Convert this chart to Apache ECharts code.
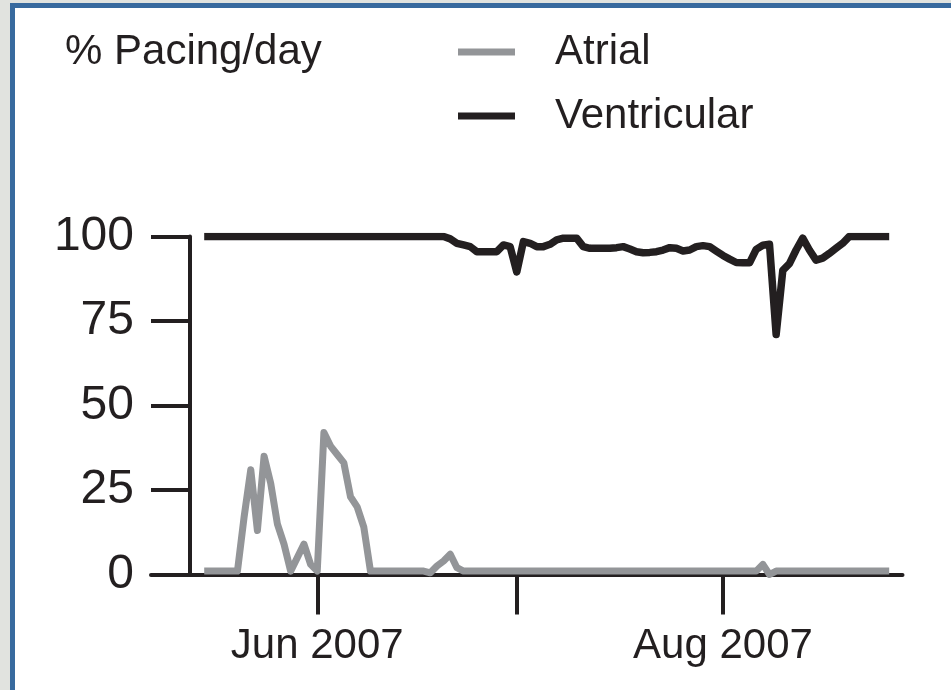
<!DOCTYPE html>
<html>
<head>
<meta charset="utf-8">
<title>% Pacing/day</title>
<script src="https://cdn.jsdelivr.net/npm/echarts@6/dist/echarts.min.js"></script>
<style>
  html, body { margin: 0; padding: 0; background: #ffffff; }
  #frame { position: absolute; left: 0; top: 0; width: 951px; height: 690px; background: #e1e3df; }
  #panel { position: absolute; left: 10px; top: 3px; right: 0; bottom: 0;
           border-left: 5px solid #386a9e; border-top: 5px solid #386a9e; background: #ffffff; }
  #chart { position: absolute; left: 0; top: 0; width: 951px; height: 690px; }
</style>
</head>
<body>
<div id="frame"><div id="panel"></div></div>
<div id="chart"></div>
<script>
// Daily categories, 7 May 2007 – 28 Aug 2007
const firstDay = '2007-05-07';
const lastDay = '2007-08-28';

const seriesNames = ['Atrial', 'Ventricular'];
const yTicks = [0, 25, 50, 75, 100];
const monthLabels = { '06': 'Jun 2007', '08': 'Aug 2007' };

// % of the day paced, one value per day from 15 May to 26 Aug 2007
const atrial = [
  1, 1, 1, 1, 1, 1,
  17, 31, 13, 35, 27, 15, 9, 1, 5, 9, 3, 1,
  42, 38, 35.5, 33, 23, 20, 14, 1,
  1, 1, 1, 1, 1, 1, 1, 1,
  0.5, 2.5, 4, 6, 2,
  1, 1, 1, 1, 1, 1, 1, 1, 1, 1, 1, 1, 1, 1, 1,
  1, 1, 1, 1, 1, 1, 1, 1, 1, 1, 1, 1, 1, 1, 1,
  1, 1, 1, 1, 1, 1, 1, 1, 1, 1, 1, 1, 1, 1, 1,
  3, 0,
  1, 1, 1, 1, 1, 1, 1, 1, 1, 1, 1, 1, 1, 1, 1, 1, 1, 1
];
const ventricular = [
  100, 100, 100, 100, 100, 100, 100, 100, 100, 100,
  100, 100, 100, 100, 100, 100, 100, 100, 100, 100,
  100, 100, 100, 100, 100, 100, 100, 100, 100, 100,
  100, 100, 100, 100, 100, 100, 100,
  99.3, 98, 97.5, 97, 95.5, 95.5, 95.5, 95.5, 97.5, 97,
  89.5, 98.5, 98, 97, 97, 97.7, 99, 99.5, 99.5, 99.5,
  97, 96.5, 96.5, 96.5, 96.5, 96.7, 97, 96.3, 95.5, 95.2,
  95.3, 95.5, 96, 96.7, 96.5, 95.7, 96, 97, 97.3, 97,
  95.7, 94.4, 93.3, 92.3, 92.2, 92.2, 96.2, 97.4, 97.7, 71,
  90, 92, 96, 99.5, 96, 93, 93.6, 95, 96.5, 98,
  100, 100, 100, 100, 100, 100, 100
];
const dataStart = '2007-05-15';

// Build the day list and pad the series to the full axis range
function dayList(a, b) {
  const out = [];
  const d = new Date(a + 'T00:00:00Z');
  const end = new Date(b + 'T00:00:00Z');
  while (d <= end) {
    out.push(d.toISOString().slice(0, 10));
    d.setUTCDate(d.getUTCDate() + 1);
  }
  return out;
}
const days = dayList(firstDay, lastDay);
function padSeries(values) {
  const lead = days.indexOf(dataStart);
  const out = days.map(() => null);
  values.forEach((v, i) => { out[lead + i] = v; });
  return out;
}

const ink = '#231f20';
const grey = '#939598';
const font = '"Liberation Sans", Arial, Helvetica, sans-serif';

const chart = echarts.init(document.getElementById('chart'), null, { renderer: 'canvas' });
chart.setOption({
  backgroundColor: 'transparent',
  animation: false,
  color: [grey, ink],
  title: {
    text: '% Pacing/day',
    left: 60, top: 26,
    textStyle: { color: ink, fontFamily: font, fontSize: 42, fontWeight: 'normal' }
  },
  legend: {
    data: seriesNames,
    orient: 'vertical',
    left: 453, top: 26,
    itemWidth: 57, itemHeight: 7,
    itemGap: 22,
    icon: 'rect',
    textStyle: { color: ink, fontFamily: font, fontSize: 42, padding: [0, 0, 0, 35] }
  },
  grid: { left: 151, right: 48.5, top: 236.5, bottom: 115.5, containLabel: false },
  xAxis: {
    type: 'category',
    data: days,
    boundaryGap: false,
    axisLine: { onZero: true, lineStyle: { color: ink, width: 4 } },
    axisTick: {
      length: 40,
      lineStyle: { color: ink, width: 4 },
      interval: (i, v) => v.slice(8) === '01'
    },
    axisLabel: {
      interval: (i, v) => v.slice(8) === '01' && monthLabels[v.slice(5, 7)] !== undefined,
      formatter: v => monthLabels[v.slice(5, 7)] || '',
      color: ink, fontFamily: font, fontSize: 42, margin: 51
    },
    splitLine: { show: false }
  },
  yAxis: {
    type: 'value',
    min: yTicks[0], max: yTicks[yTicks.length - 1], interval: 25,
    offset: -39,
    axisLine: { show: true, lineStyle: { color: ink, width: 4 } },
    axisTick: { show: true, length: 39, lineStyle: { color: ink, width: 4 } },
    axisLabel: { color: ink, fontFamily: font, fontSize: 48, margin: 56 },
    splitLine: { show: false }
  },
  series: [
    {
      name: seriesNames[0], type: 'line', data: padSeries(atrial),
      showSymbol: false, symbol: 'none', connectNulls: false,
      itemStyle: { color: grey },
      lineStyle: { color: grey, width: 7, join: 'round' },
      z: 3
    },
    {
      name: seriesNames[1], type: 'line', data: padSeries(ventricular),
      showSymbol: false, symbol: 'none', connectNulls: false,
      itemStyle: { color: ink },
      lineStyle: { color: ink, width: 7.5, join: 'round' },
      z: 4
    }
  ]
});
</script>
</body>
</html>
